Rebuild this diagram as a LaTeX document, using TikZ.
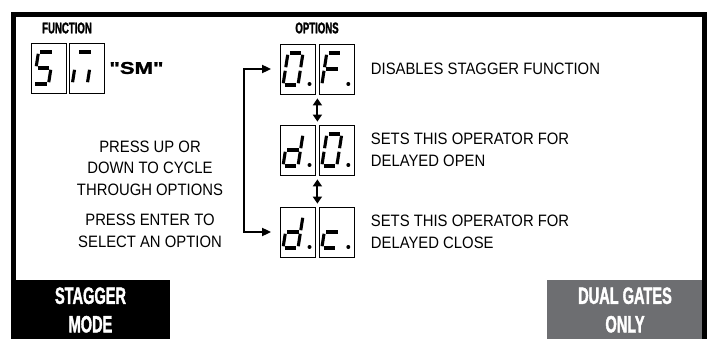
\documentclass[tikz,border=0pt]{standalone}
\usepackage{fontspec}
\setmainfont{Liberation Sans}[FakeStretch=0.9]
\newfontfamily\condfont{Liberation Sans Bold}[FakeStretch=0.62,FakeBold=1.6]
\newfontfamily\widefont{Liberation Sans Bold}[FakeStretch=1.3,FakeBold=1.4]
\usetikzlibrary{positioning,arrows.meta,calc}
\definecolor{panelgray}{HTML}{6D6E71}

\tikzset{
  digitbox/.style={draw,line width=.8pt,minimum width=35pt,minimum height=50pt,inner sep=0pt},
  seg/.style={line width=3.1pt,shorten <=1.8pt,shorten >=1.8pt},
  caption/.style={inner sep=0pt,font=\fontsize{16.5}{21.5}\selectfont},
  heading/.style={inner sep=0pt,font=\condfont\fontsize{15.5}{17}\selectfont},
  tab/.style={inner sep=0pt,text=white,align=center,font=\condfont\fontsize{23.5}{28.5}\selectfont},
  bracket/.style={line width=1.8pt,{Triangle[length=9pt,width=8pt]}-{Triangle[length=9pt,width=8pt]},shorten <=9pt,shorten >=9pt},
  updown/.style={line width=2pt,{Triangle[length=7pt,width=9pt]}-{Triangle[length=7pt,width=9pt]},shorten <=4pt,shorten >=3pt}
}

% seven segment digit inside a named box
\newcommand\segdigit[3]{%
  \begin{scope}[shift={(#1.center)}]
    \coordinate (TL) at (-10,-16); \coordinate (TR) at (5,-16);
    \coordinate (ML) at (-12.5,0); \coordinate (MR) at (2.5,0);
    \coordinate (BL) at (-15,16); \coordinate (BR) at (0,16);
    \foreach \p/\q in {#2}{\draw[seg] (\p) -- (\q);}
    \ifnum#3=1 \fill (11.5,15) circle (2pt); \fi
  \end{scope}}

\begin{document}
\begin{tikzpicture}[x=1pt,y=-1pt]
  \useasboundingbox (0,0) rectangle (709,339);
  % frame and tabs
  \draw[line width=5pt] (13.5,339) -- (13.5,14.5) -- (704,14.5) -- (704,339);
  \fill (11,280) rectangle (170,339);
  \fill[panelgray] (547,280) rectangle (701.5,339);
  \node[tab] (mode) at (90.5,310) {STAGGER\\MODE};
  \node[tab] (dual) at (625,310) {DUAL GATES\\ONLY};

  % function display
  \node[heading] (func) at (67,28) {FUNCTION};
  \node[digitbox] (f1) at (48.5,68) {};
  \node[digitbox,right=3pt of f1] (f2) {};
  \node[inner sep=0pt,right=4pt of f2,font=\widefont\fontsize{17}{19}\selectfont] (sm) {"SM"};
  \segdigit{f1}{TL/TR,TL/ML,ML/MR,MR/BR,BL/BR}{0}
  \segdigit{f2}{TL/TR,ML/BL,MR/BR}{0}

  % option displays
  \node[heading] (opts) at (317,28) {OPTIONS};
  \node[digitbox] (r1a) at (298,69) {};
  \node[digitbox,right=3pt of r1a] (r1b) {};
  \node[digitbox] (r2a) at (298,150) {};
  \node[digitbox,right=3pt of r2a] (r2b) {};
  \node[digitbox] (r3a) at (298,232) {};
  \node[digitbox,right=3pt of r3a] (r3b) {};
  \segdigit{r1a}{TL/TR,TR/MR,MR/BR,BL/BR,ML/BL,TL/ML}{1}
  \segdigit{r1b}{TL/TR,TL/ML,ML/MR,ML/BL}{1}
  \segdigit{r2a}{TR/MR,MR/BR,BL/BR,ML/BL,ML/MR}{1}
  \segdigit{r2b}{TL/TR,TR/MR,MR/BR,BL/BR,ML/BL,TL/ML}{1}
  \segdigit{r3a}{TR/MR,MR/BR,BL/BR,ML/BL,ML/MR}{1}
  \segdigit{r3b}{ML/MR,ML/BL,BL/BR}{1}

  \node[caption,align=left,right=16pt of r1b] (t1) {DISABLES STAGGER FUNCTION};
  \node[caption,align=left,right=16pt of r2b] (t2) {SETS THIS OPERATOR FOR\\DELAYED OPEN};
  \node[caption,align=left,right=16pt of r3b] (t3) {SETS THIS OPERATOR FOR\\DELAYED CLOSE};

  \node[caption,align=center] (help1) at (150,168) {PRESS UP OR\\DOWN TO CYCLE\\THROUGH OPTIONS};
  \node[caption,align=center] (help2) at (150,231) {PRESS ENTER TO\\SELECT AN OPTION};

  % connectors
  \draw[bracket] (r1a.west) -- ++(-36,0) |- (r3a.west);
  \draw[updown] ($(r1a.south east)!.5!(r1b.south west)$) -- ($(r2a.north east)!.5!(r2b.north west)$);
  \draw[updown] ($(r2a.south east)!.5!(r2b.south west)$) -- ($(r3a.north east)!.5!(r3b.north west)$);
\end{tikzpicture}
\end{document}
